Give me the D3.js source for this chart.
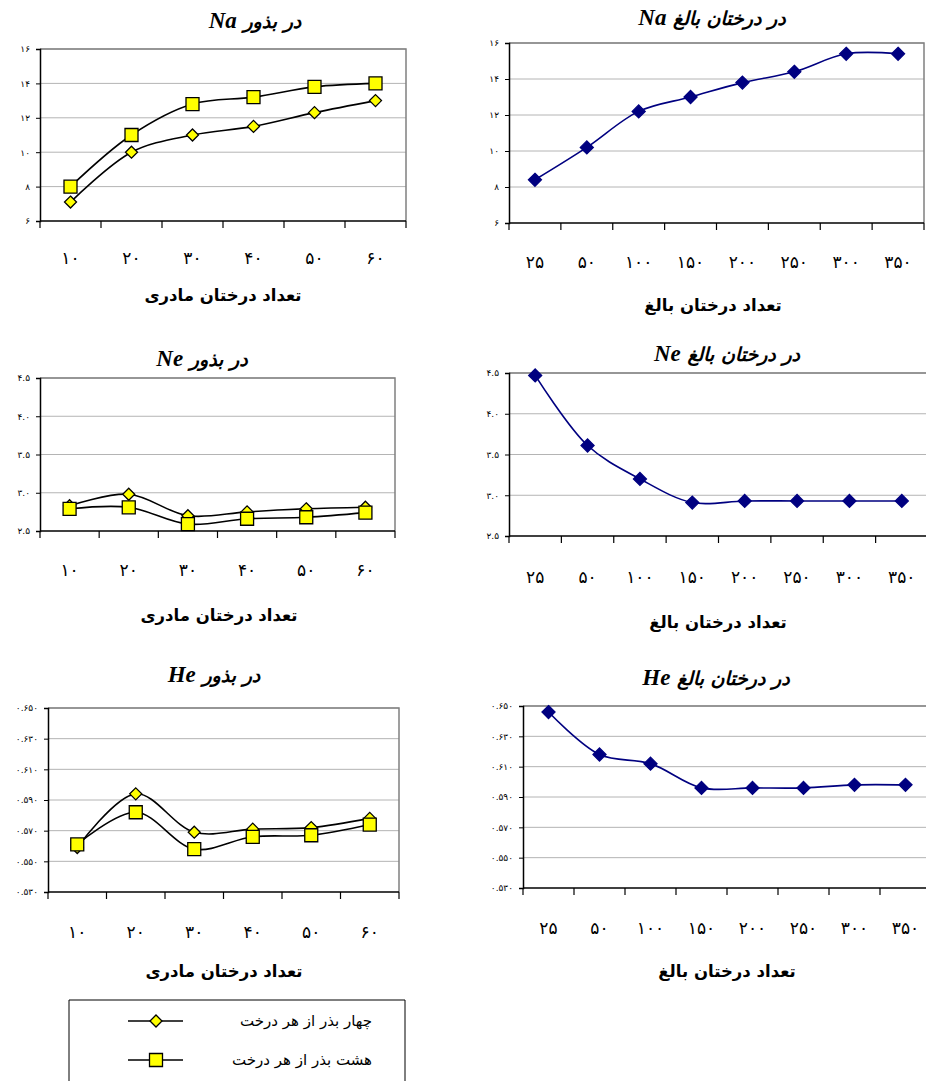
<!DOCTYPE html>
<html>
<head>
<meta charset="utf-8">
<script src="https://cdn.jsdelivr.net/npm/d3@7"></script>
<style>
  body { margin: 0; background: #fff; }
  svg { display: block; }
</style>
</head>
<body>
<div id="chart"></div>
<script>
// categories
const seedCats = [10, 20, 30, 40, 50, 60];
const adultCats = [25, 50, 100, 150, 200, 250, 300, 350];

// series values
const naSeed4 = [7.1, 10.0, 11.0, 11.5, 12.3, 13.0];
const naSeed8 = [8.0, 11.0, 12.8, 13.2, 13.8, 14.0];
const naAdult = [8.4, 10.2, 12.2, 13.0, 13.8, 14.4, 15.4, 15.4];

const neSeed4 = [2.83, 2.98, 2.70, 2.75, 2.79, 2.81];
const neSeed8 = [2.79, 2.81, 2.59, 2.66, 2.68, 2.74];
const neAdult = [4.47, 3.61, 3.20, 2.91, 2.93, 2.93, 2.93, 2.93];

const heSeed4 = [0.559, 0.594, 0.569, 0.571, 0.572, 0.578];
const heSeed8 = [0.561, 0.582, 0.558, 0.566, 0.567, 0.574];
const heAdult = [0.646, 0.618, 0.612, 0.596, 0.596, 0.596, 0.598, 0.598];

// y tick values
const naTicks = [6, 8, 10, 12, 14, 16];
const neTicks = [2.5, 3.0, 3.5, 4.0, 4.5];
const heTicks = [0.53, 0.55, 0.57, 0.59, 0.61, 0.63, 0.65];

const seedTitle = "تعداد درختان مادری";
const adultTitle = "تعداد درختان بالغ";
const legendLabels = ["چهار بذر از هر درخت", "هشت بذر از هر درخت"];

const faDigits = "۰۱۲۳۴۵۶۷۸۹";
const toFa = s => String(s).replace(/[0-9]/g, d => faDigits[+d]);

const W = 926, H = 1081;
const svg = d3.select("#chart").append("svg").attr("width", W).attr("height", H);

const persian = "'DejaVu Sans', sans-serif";
const serif = "'Liberation Serif', 'Times New Roman', serif";

function drawPanel(p) {
  const g = svg.append("g");
  const x = d3.scaleBand().domain(p.cats).range([p.x0, p.x1]);
  const y = d3.scaleLinear().domain(p.domain).range([p.yBot, p.yTop]);

  // gridlines
  g.selectAll(".grid").data(p.ticks.slice(1)).enter().append("line")
    .attr("x1", p.x0).attr("x2", p.x1)
    .attr("y1", d => y(d)).attr("y2", d => y(d))
    .attr("stroke", "#b4b4b4").attr("stroke-width", 1);

  // plot frame top & right
  g.append("path")
    .attr("d", `M${p.x0},${p.yTop}H${p.x1}V${p.yBot}`)
    .attr("fill", "none").attr("stroke", "#808080").attr("stroke-width", 1.5);

  // y axis
  const yAxis = d3.axisLeft(y).tickValues(p.ticks).tickSize(4).tickFormat(p.fmt);
  const ya = g.append("g").attr("transform", `translate(${p.x0},0)`).call(yAxis);
  ya.select(".domain").attr("stroke", "#000").attr("stroke-width", 1.5);
  ya.selectAll(".tick line").attr("stroke", "#000");
  ya.selectAll("text").attr("font-family", persian).attr("font-size", 9).attr("dx", -3);

  // x axis with ticks at category boundaries
  g.append("line").attr("x1", p.x0).attr("x2", p.x1).attr("y1", p.yBot).attr("y2", p.yBot)
    .attr("stroke", "#000").attr("stroke-width", 1.5);
  const bounds = p.cats.map(c => x(c)).concat([p.x1]);
  g.selectAll(".xt").data(bounds).enter().append("line")
    .attr("x1", d => d).attr("x2", d => d)
    .attr("y1", p.yBot).attr("y2", p.yBot + 7)
    .attr("stroke", "#000").attr("stroke-width", 1.2);
  g.selectAll(".xl").data(p.cats).enter().append("text")
    .attr("x", d => x(d) + x.bandwidth() / 2).attr("y", p.labY)
    .attr("text-anchor", "middle").attr("font-family", persian)
    .attr("font-size", 17).attr("letter-spacing", 5)
    .text(d => toFa(d));

  // titles
  const t = g.append("text").attr("x", p.tx).attr("y", p.ty).attr("text-anchor", "middle");
  t.append("tspan").attr("font-family", serif).attr("font-weight", "bold")
    .attr("font-style", "italic").attr("font-size", 23).text(p.sym);
  t.append("tspan").attr("font-family", persian).attr("font-weight", "bold")
    .attr("font-style", "italic").attr("font-size", 19).text("  " + p.title);

  g.append("text").attr("x", p.ax).attr("y", p.ay).attr("text-anchor", "middle")
    .attr("font-family", persian).attr("font-weight", "bold").attr("font-size", 16.5)
    .text(p.axisTitle);

  const line = d3.line()
    .x((d, i) => x(p.cats[i]) + x.bandwidth() / 2)
    .y(d => y(d))
    .curve(d3.curveCatmullRom.alpha(0.5));

  p.series.forEach(s => {
    g.append("path").datum(s.values).attr("d", line)
      .attr("fill", "none").attr("stroke", s.stroke).attr("stroke-width", 1.6);
  });
  p.series.forEach(s => {
    g.selectAll(null).data(s.values).enter().append("path")
      .attr("transform", (d, i) => `translate(${x(p.cats[i]) + x.bandwidth() / 2},${y(d)})`)
      .attr("d", s.shape)
      .attr("fill", s.fill).attr("stroke", s.markStroke).attr("stroke-width", 1.3);
  });
}

const diamondSm = "M0,-6L6,0L0,6L-6,0Z";
const squareSm = "M-6.5,-6.5H6.5V6.5H-6.5Z";
const diamondNv = "M0,-6.5L6.5,0L0,6.5L-6.5,0Z";

const s4 = v => ({ values: v, stroke: "#000", fill: "#ffff00", markStroke: "#000", shape: diamondSm });
const s8 = v => ({ values: v, stroke: "#000", fill: "#ffff00", markStroke: "#000", shape: squareSm });
const sA = v => ({ values: v, stroke: "#000080", fill: "#000080", markStroke: "#000080", shape: diamondNv });

const fmtNa = d => toFa(d);
const fmtNe = d => toFa(d.toFixed(1));
const fmtHe = d => toFa(d.toFixed(3));

drawPanel({ cats: seedCats, domain: [6, 16], ticks: naTicks, fmt: fmtNa,
  x0: 40, x1: 406, yTop: 49, yBot: 221, labY: 264,
  tx: 255, ty: 28, sym: "Na", title: "در بذور", ax: 223, ay: 301, axisTitle: seedTitle,
  series: [s4(naSeed4), s8(naSeed8)] });

drawPanel({ cats: adultCats, domain: [6, 16], ticks: naTicks, fmt: fmtNa,
  x0: 509, x1: 924, yTop: 43, yBot: 223, labY: 268,
  tx: 712, ty: 25, sym: "Na", title: "در درختان بالغ", ax: 713, ay: 311, axisTitle: adultTitle,
  series: [sA(naAdult)] });

drawPanel({ cats: seedCats, domain: [2.5, 4.5], ticks: neTicks, fmt: fmtNe,
  x0: 40, x1: 395, yTop: 378, yBot: 531, labY: 576,
  tx: 202, ty: 366, sym: "Ne", title: "در بذور", ax: 219, ay: 621, axisTitle: seedTitle,
  series: [s4(neSeed4), s8(neSeed8)] });

drawPanel({ cats: adultCats, domain: [2.5, 4.5], ticks: neTicks, fmt: fmtNe,
  x0: 509, x1: 928, yTop: 373, yBot: 536, labY: 583,
  tx: 727, ty: 361, sym: "Ne", title: "در درختان بالغ", ax: 718, ay: 628, axisTitle: adultTitle,
  series: [sA(neAdult)] });

drawPanel({ cats: seedCats, domain: [0.53, 0.65], ticks: heTicks, fmt: fmtHe,
  x0: 48, x1: 399, yTop: 708, yBot: 892, labY: 938,
  tx: 214, ty: 682, sym: "He", title: "در بذور", ax: 224, ay: 977, axisTitle: seedTitle,
  series: [s4(heSeed4), s8(heSeed8)] });

drawPanel({ cats: adultCats, domain: [0.53, 0.65], ticks: heTicks, fmt: fmtHe,
  x0: 523, x1: 931, yTop: 706, yBot: 888, labY: 934,
  tx: 716, ty: 685, sym: "He", title: "در درختان بالغ", ax: 727, ay: 977, axisTitle: adultTitle,
  series: [sA(heAdult)] });

// legend
const lg = svg.append("g");
lg.append("path").attr("d", "M69,1090V1000H405V1090")
  .attr("fill", "none").attr("stroke", "#000").attr("stroke-width", 1);
const legendShapes = [diamondSm, squareSm];
legendLabels.forEach((lab, i) => {
  const yy = 1021 + i * 39;
  lg.append("line").attr("x1", 128).attr("x2", 183).attr("y1", yy).attr("y2", yy)
    .attr("stroke", "#000").attr("stroke-width", 1.6);
  lg.append("path").attr("transform", `translate(156,${yy})`).attr("d", legendShapes[i])
    .attr("fill", "#ffff00").attr("stroke", "#000").attr("stroke-width", 1.3);
  lg.append("text").attr("x", 372).attr("y", yy + 5).attr("text-anchor", "end")
    .attr("font-family", persian).attr("font-size", 15)
    .text(lab);
});
</script>
</body>
</html>
